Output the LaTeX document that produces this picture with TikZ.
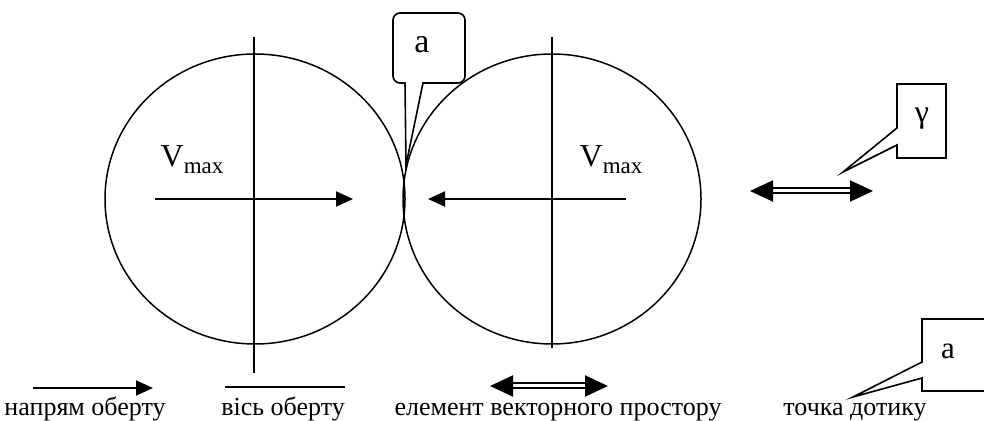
\documentclass[tikz,border=0pt]{standalone}
\usepackage{fontspec}
\setmainfont{Liberation Serif}
\usetikzlibrary{arrows.meta}
\definecolor{ink}{HTML}{000000}

\newcommand{\vmax}{V\raisebox{-0.22em}{\fontsize{11.5}{12}\selectfont max}}

\begin{document}
\begin{tikzpicture}[x=0.5pt,y=-0.5pt,text=ink,draw=ink,line join=miter,
  roll/.style={line width=0.75pt},
  axis/.style={line width=0.9pt},
  spin/.style={line width=1pt,-{Triangle[length=8.5pt,width=7.5pt]}},
  elem/.style={double,double distance=1.5pt,line width=1pt,
    {Triangle[length=11.5pt,width=10.5pt]}-{Triangle[length=11.5pt,width=10.5pt]}},
  callout/.style={line width=0.8pt},
  speed/.style={font=\fontsize{16}{18}\selectfont},
  legend/.style={anchor=base,font=\fontsize{13}{15}\selectfont}]
  \useasboundingbox (0,0) rectangle (984,421);

  % two rollers in contact
  \coordinate (O1) at (255,199);
  \coordinate (O2) at (552,199);
  \draw[roll] (O1) ellipse [x radius=150,y radius=145];
  \draw[roll] (O2) ellipse [x radius=149,y radius=145];
  \draw[axis] (O1) ++(-1,-162) -- ++(0,336);
  \draw[axis] (O2) ++(0,-162) -- ++(0,311);
  \draw[spin] (O1) ++(-100,0) -- ++(198,0);
  \draw[spin] (O2) ++(74,0) -- ++(-198,0);
  \node[speed] (v1) at (192,160) {\vmax};
  \node[speed] (v2) at (611,160) {\vmax};

  % point of contact
  \node[font=\fontsize{17}{18}\selectfont] (ta) at (422,45) {a};
  \draw[callout] (405,83) -- (406,165) -- (423,83)
    {[rounded corners=3.5pt] -- (465,83) -- (465,13) -- (393,13) -- (393,83)} -- cycle;

  % vector space element
  \coordinate (e1) at (750,191);
  \coordinate (e2) at (873,191);
  \draw[elem] (e1) -- (e2);
  \node[font=\fontsize{16}{18}\selectfont] (tg) at (922,119) {γ};
  \draw[callout] (897,128) -- (843,172) -- (897,145) -- (897,158)
    -- (946,158) -- (946,84) -- (897,84) -- cycle;

  % legend
  \draw[spin] (33,388) -- (153,388);
  \node[legend] (l1) at (85,416) {напрям оберту};
  \draw[axis] (225,387) -- (345,387);
  \node[legend] (l2) at (283,416) {вісь оберту};
  \coordinate (d1) at (490,386);
  \coordinate (d2) at (608,386);
  \draw[elem] (d1) -- (d2);
  \node[legend] (l3) at (558,416) {елемент векторного простору};
  \node[legend] (l4) at (855,416) {точка дотику};
  \node[font=\fontsize{15.5}{18}\selectfont] (tb) at (948,351) {a};
  \draw[callout] (984,319) -- (922,319) -- (922,362) -- (853,397)
    -- (922,378) -- (922,391) -- (984,391);
\end{tikzpicture}
\end{document}
